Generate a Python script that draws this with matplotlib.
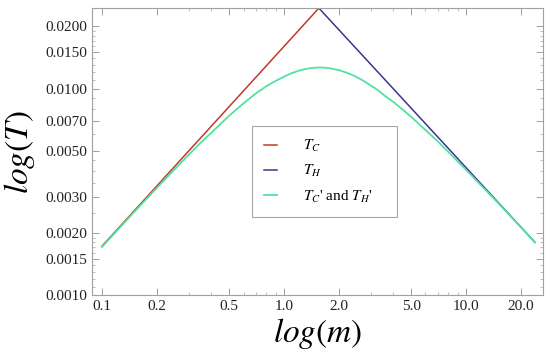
import matplotlib
matplotlib.use("Agg")
import matplotlib.pyplot as plt
import numpy as np
from matplotlib.ticker import FixedLocator, FixedFormatter, NullFormatter

plt.rcParams['font.family'] = ['Liberation Serif', 'DejaVu Serif']
plt.rcParams['mathtext.fontset'] = 'stix'

# data
m_tc = [0.1, 1.557]
t_tc = [0.001724, 0.0245]
m_th = [1.557, 24.0]
t_th = [0.0245, 0.0018]
m_prime = [0.1, 0.15, 0.2, 0.25, 0.3, 0.35, 0.4, 0.5, 0.6, 0.7, 0.8, 0.9,
           1.0, 1.1, 1.2, 1.3, 1.4, 1.5, 1.6, 1.7, 1.8, 2.0, 2.2, 2.4, 2.7,
           3.0, 3.3, 3.6, 4.0, 4.5, 5.0, 6.0, 7.0, 8.0, 10.0, 12.0, 15.0,
           17.0, 20.0, 24.0]
t_prime = [0.00171, 0.00252, 0.0033, 0.00405, 0.00478, 0.00548, 0.00612,
           0.00738, 0.00848, 0.00945, 0.01025, 0.01088, 0.0114, 0.01185,
           0.01218, 0.0124, 0.01255, 0.01262, 0.01264, 0.0126, 0.01252,
           0.01228, 0.01195, 0.01158, 0.01098, 0.01035, 0.0098, 0.0092,
           0.0086, 0.0079, 0.0073, 0.0063, 0.00555, 0.00494, 0.00405, 0.00343,
           0.0028, 0.00249, 0.00214, 0.0018]

x_ticks = [0.1, 0.2, 0.5, 1.0, 2.0, 5.0, 10.0, 20.0]
x_labels = ['0.1', '0.2', '0.5', '1.0', '2.0', '5.0', '10.0', '20.0']
y_ticks = [0.001, 0.0015, 0.002, 0.003, 0.005, 0.007, 0.01, 0.015, 0.02]
y_labels = ['0.0010', '0.0015', '0.0020', '0.0030', '0.0050', '0.0070',
            '0.0100', '0.0150', '0.0200']

fig = plt.figure(figsize=(5.5, 3.53), dpi=100)
ax = fig.add_axes([0.167, 0.164, 0.82, 0.813])

ax.plot(m_tc, t_tc, color='#c0392f', lw=1.1, label=r'$T_C$')
ax.plot(m_th, t_th, color='#3b3592', lw=1.1, label=r'$T_H$')
ax.plot(m_prime, t_prime, color='#4fe3a0', lw=1.3,
        label=r"$T_C$' and $T_H$'    ")

ax.set_xscale('log')
ax.set_yscale('log')
ax.set_xlim(0.088, 26.5)
ax.set_ylim(0.001, 0.0245)

ax.xaxis.set_major_locator(FixedLocator(x_ticks))
ax.xaxis.set_major_formatter(FixedFormatter(x_labels))
x_minor = [0.3, 0.4, 0.6, 0.7, 0.8, 0.9, 3, 4, 6, 7, 8, 9]
ax.xaxis.set_minor_locator(FixedLocator(x_minor))
ax.xaxis.set_minor_formatter(NullFormatter())

ax.yaxis.set_major_locator(FixedLocator(y_ticks))
ax.yaxis.set_major_formatter(FixedFormatter(y_labels))
y_minor = list(np.arange(0.0011, 0.00196, 0.0001)) + [0.0025, 0.0035, 0.004, 0.0045,
           0.006, 0.008, 0.009] + list(np.arange(0.011, 0.0196, 0.001))
ax.yaxis.set_minor_locator(FixedLocator(y_minor))
ax.yaxis.set_minor_formatter(NullFormatter())

for s in ax.spines.values():
    s.set_color('#a0a0a0')
    s.set_linewidth(0.8)
ax.tick_params(which='both', direction='in', top=True, right=True,
               colors='#a0a0a0', labelcolor='#222222', labelsize=11)
ax.tick_params(which='major', length=5, width=0.7)
ax.tick_params(which='minor', length=2.5, width=0.5)

ax.set_xlabel(r'$log(m)$', fontsize=24, labelpad=2)
ax.set_ylabel(r'$log(T)$', fontsize=24, labelpad=6)

leg = ax.legend(loc='upper left', bbox_to_anchor=(0.354, 0.59), fontsize=11,
                frameon=True, fancybox=False, handlelength=0.9,
                handletextpad=1.7, labelspacing=0.6, borderpad=0.8,
                borderaxespad=0)
leg.get_frame().set_edgecolor('#909090')
leg.get_frame().set_linewidth(0.8)

fig.savefig('out.png', dpi=100)
